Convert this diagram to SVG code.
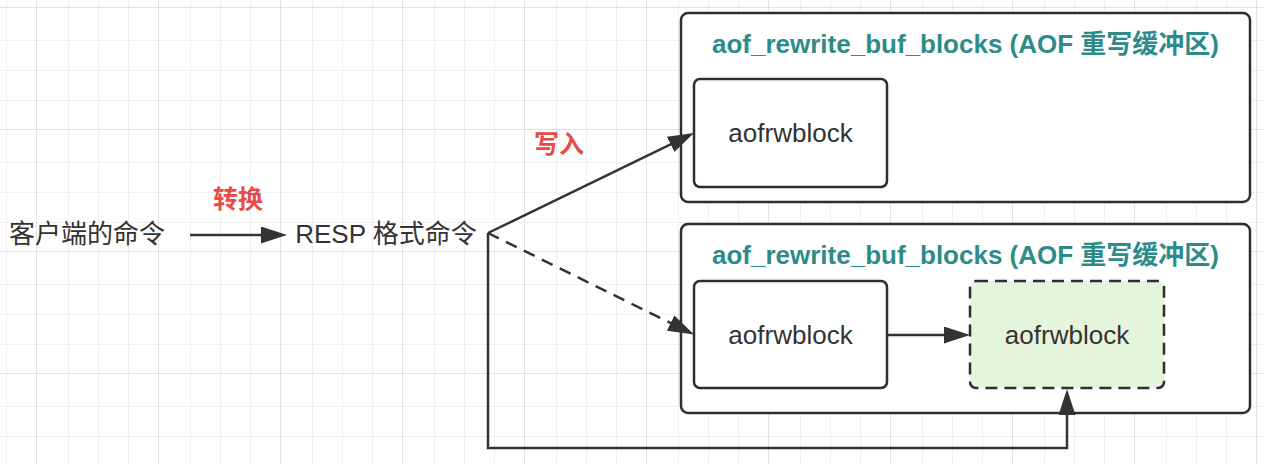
<svg xmlns="http://www.w3.org/2000/svg" width="1264" height="464" viewBox="0 0 1264 464">
<style>
.bg{fill:#ffffff}
.minor{stroke:#efefef;stroke-width:1;fill:none}
.major{stroke:#e2e2e2;stroke-width:1;fill:none}
.container{fill:#ffffff;stroke:#2b2f33;stroke-width:2.5}
.block{fill:#ffffff;stroke:#2b2f33;stroke-width:2.5}
.block-new{fill:#e4f5dc;stroke:#2b2f33;stroke-width:2.5;stroke-dasharray:12 7}
.title{font-family:"Liberation Sans","Noto Sans CJK SC",sans-serif;font-size:26px;font-weight:bold;fill:#2d8c89;text-anchor:middle}
.label{font-family:"Liberation Sans","Noto Sans CJK SC",sans-serif;font-size:26px;fill:#333333;text-anchor:middle}
.red{font-family:"Liberation Sans","Noto Sans CJK SC",sans-serif;font-size:25px;font-weight:bold;fill:#e84a4a;text-anchor:middle}
.edge{fill:none;stroke:#333333;stroke-width:2.5}
.dashed{stroke-dasharray:12 8}
</style>
<defs>
<pattern id="grid" patternUnits="userSpaceOnUse" x="36" y="7" width="122" height="122">
<path class="minor" d="M32.5,0V122M62.5,0V122M92.5,0V122M0,33.5H122M0,63.5H122M0,93.5H122"/>
<path class="major" d="M0.5,0V122M0,0.5H122"/>
</pattern>
<marker id="arrow" markerUnits="userSpaceOnUse" viewBox="0 0 26 17" markerWidth="26" markerHeight="17" refX="20" refY="8.5" orient="auto">
<path d="M0,0L26,8.5L0,17Z" fill="#333333"/>
</marker>
</defs>
<rect class="bg" x="0" y="0" width="1264" height="464"/>
<rect x="0" y="0" width="1264" height="464" fill="url(#grid)"/>

<g id="client-cmd"><text class="label" x="87" y="243">客户端的命令</text></g>
<g id="resp-cmd"><text class="label" x="386" y="243">RESP 格式命令</text></g>
<g id="label-convert"><text class="red" x="238" y="208">转换</text></g>
<g id="label-write"><text class="red" x="559" y="153">写入</text></g>

<g id="buf-top">
<rect class="container" x="681" y="13" width="569" height="189" rx="7"/>
<text class="title" x="965.5" y="53">aof_rewrite_buf_blocks (AOF 重写缓冲区)</text>
</g>
<g id="block-top">
<rect class="block" x="694" y="79" width="193" height="108" rx="6"/>
<text class="label" x="790.5" y="142">aofrwblock</text>
</g>

<g id="buf-bottom">
<rect class="container" x="681" y="224" width="569" height="189" rx="7"/>
<text class="title" x="965.5" y="264">aof_rewrite_buf_blocks (AOF 重写缓冲区)</text>
</g>
<g id="block-bottom-1">
<rect class="block" x="694" y="281" width="193" height="107" rx="6"/>
<text class="label" x="790.5" y="344">aofrwblock</text>
</g>
<g id="block-bottom-2">
<rect class="block-new" x="970" y="281" width="194" height="107" rx="6"/>
<text class="label" x="1067" y="344">aofrwblock</text>
</g>

<g id="connectors">
<path class="edge" d="M190,235H281" marker-end="url(#arrow)"/>
<path class="edge" d="M488,233L688.6,135.6" marker-end="url(#arrow)"/>
<path class="edge dashed" d="M488,233L688.6,331.9" marker-end="url(#arrow)"/>
<path class="edge" d="M887,335H964" marker-end="url(#arrow)"/>
<path class="edge" d="M488,233V448H1067V395" marker-end="url(#arrow)"/>
</g>
</svg>
